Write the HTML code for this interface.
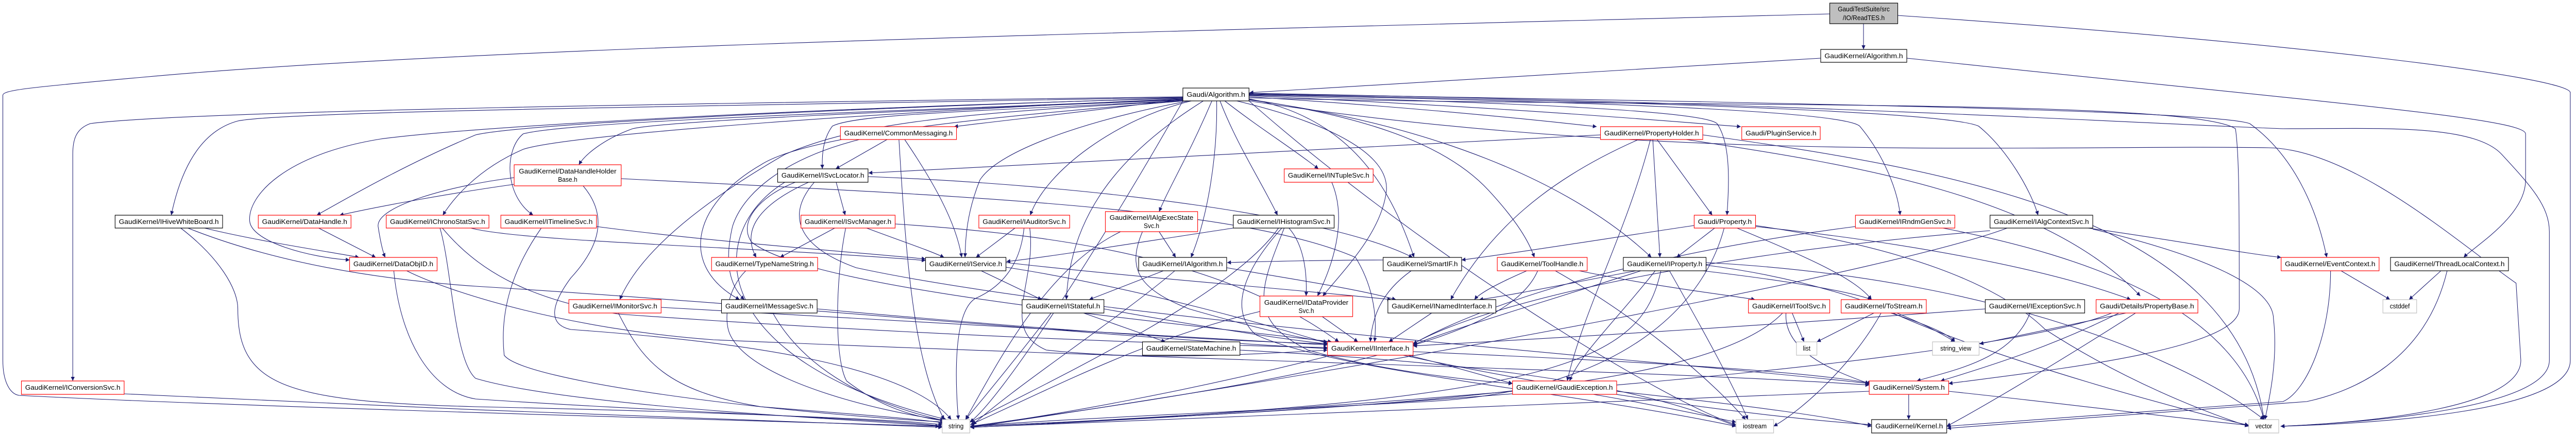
<!DOCTYPE html>
<html><head><meta charset="utf-8"><style>
html,body{margin:0;padding:0;background:#fff;width:100%;height:100%;overflow:hidden}
svg{display:block;position:absolute;left:0;top:0;width:100%;height:100%}
text{font-family:"Liberation Sans",sans-serif;font-size:13px;fill:#000}
.e path{fill:none;stroke:#191970;stroke-width:1.1}
</style></head><body>
<svg viewBox="0 0 5416 843" preserveAspectRatio="none" xmlns="http://www.w3.org/2000/svg">
<defs><marker id="a" viewBox="0 0 10 10" refX="10" refY="5" markerUnits="userSpaceOnUse" markerWidth="10" markerHeight="8" orient="auto"><path d="M0,0 L10,5 L0,10 z" fill="#191970"/></marker></defs>
<g class="e" marker-end="url(#a)">
<path d="M3918,46 L3918,96"/>
<path d="M3847,27 C2500,60 1000,90 300,150 C60,170 6,175 6,185 L6,700 C6,740 20,765 40,768 C500,790 1500,815 1975,828"/>
<path d="M3990,30 C4800,80 5404,150 5404,180 L5404,700 C5404,800 5000,822 4795,828"/>
<path d="M3828,113 C3300,140 2900,165 2627,180"/>
<path d="M4009,113 C4900,200 5310,230 5310,260 L5310,350 C5310,420 5200,480 5180,500"/>
<path d="M2487,188 C1500,200 400,215 190,240 C160,250 153,270 153,300 L153,740"/>
<path d="M2487,189 C1600,205 600,215 500,235 C420,255 380,330 360,418"/>
<path d="M2487,190 C1800,210 1100,240 1000,262 C850,320 720,390 666,418"/>
<path d="M2487,191 C1700,210 1000,245 800,270 C600,300 520,380 525,430 C530,470 650,500 735,505"/>
<path d="M2487,192 C1900,215 1200,260 1100,290 C1000,330 950,390 931,418"/>
<path d="M2487,193 C1900,215 1200,235 1100,260 C1060,290 1060,380 1121,418"/>
<path d="M2487,194 C1900,215 1400,235 1330,250 C1270,270 1230,300 1217,320"/>
<path d="M2490,192 C2300,215 2100,235 2006,246"/>
<path d="M2487,195 C2100,215 1800,220 1750,245 C1730,270 1728,300 1729,328"/>
<path d="M2487,196 C2000,220 1800,240 1650,300 C1500,380 1350,480 1303,582"/>
<path d="M2490,196 C2100,225 1700,260 1600,320 C1450,400 1430,520 1555,582"/>
<path d="M2500,196 C2300,230 2100,290 2060,350 C2030,420 2030,470 2029,500"/>
<path d="M2505,196 C2350,230 2200,330 2166,418"/>
<path d="M2530,196 C2350,300 2250,420 2242,582"/>
<path d="M2548,196 C2500,300 2460,360 2437,411"/>
<path d="M2558,196 C2560,300 2540,420 2504,500"/>
<path d="M2565,196 C2600,280 2650,350 2686,418"/>
<path d="M2575,196 C2650,250 2720,290 2772,328"/>
<path d="M2600,196 C2800,240 2920,300 2915,370 C2905,450 2830,520 2781,575"/>
<path d="M2626,192 C2850,230 2930,380 2973,500"/>
<path d="M2626,188 C3000,210 3250,235 3357,246"/>
<path d="M2626,186 C3200,210 3500,235 3660,246"/>
<path d="M2626,185 C3200,200 3580,215 3610,240 C3640,280 3635,360 3631,418"/>
<path d="M2626,193 C2900,230 3050,290 3130,370 C3190,430 3215,470 3226,500"/>
<path d="M2626,194 C3000,240 3300,350 3472,500"/>
<path d="M2626,184 C3500,200 3880,220 3910,245 C3960,300 3990,370 3995,418"/>
<path d="M2626,183 C3600,200 4100,220 4160,245 C4220,290 4270,370 4285,418"/>
<path d="M2626,182 C3800,200 4650,215 4730,240 C4820,300 4870,400 4892,500"/>
<path d="M2626,181 C3800,200 4500,240 4800,250 C5000,250 5200,240 5260,300 C5320,360 5360,400 5360,450 L5360,700 C5360,790 5000,820 4795,828"/>
<path d="M2626,190 C3500,210 4600,190 4700,250 C4708,300 4708,400 4708,600 C4708,680 4300,720 4097,745"/>
<path d="M2626,196 C3500,320 4300,280 4770,287 C4950,290 5180,480 5290,550 L5300,700 C5300,790 5000,820 4795,828"/>
<path d="M2487,196 C2300,500 2100,780 2039,820"/>
<path d="M2626,196 C3000,500 3500,780 3650,825"/>
<path d="M1865,271 L1757,328"/>
<path d="M1807,271 C1640,310 1560,380 1540,440 C1520,520 1540,560 1565,582"/>
<path d="M1890,271 C1905,500 1920,700 1985,815"/>
<path d="M1902,271 C1960,350 2010,430 2022,500"/>
<path d="M1758,354 L1777,418"/>
<path d="M1700,354 C1590,400 1560,450 1590,500"/>
<path d="M1672,354 C1600,380 1550,430 1580,470 C1700,560 2400,620 2800,664"/>
<path d="M1825,343 C2300,360 2800,420 2970,500"/>
<path d="M1650,354 C1480,450 1480,700 1990,815"/>
<path d="M1712,354 C1650,420 1680,480 1800,520 C2300,620 3500,700 3930,745"/>
<path d="M3365,262 C2800,290 2100,320 1826,336"/>
<path d="M1081,345 C950,360 790,400 795,440 C800,470 805,490 810,500"/>
<path d="M1081,358 C950,375 800,400 714,418"/>
<path d="M1306,347 C2000,380 2600,400 2850,500 C2890,560 2895,620 2890,664"/>
<path d="M1226,361 C1280,420 1260,480 1200,540 C1160,590 1150,630 1200,640 C1500,660 1900,700 2000,815"/>
<path d="M430,443 C550,470 700,490 755,500"/>
<path d="M380,443 C460,500 500,560 500,600 C500,750 600,780 1000,790 C1500,800 1900,815 1981,825"/>
<path d="M395,443 C550,500 750,540 1000,556 C1600,590 2400,660 2791,677"/>
<path d="M670,443 L790,500"/>
<path d="M828,526 C840,650 900,760 1000,775 C1400,800 1900,815 1981,828"/>
<path d="M855,526 C950,570 1200,640 1500,660 C2500,700 3500,720 3930,748"/>
<path d="M925,443 C950,520 955,700 1000,735 C1200,790 1800,815 1981,828"/>
<path d="M990,443 C1100,470 1600,480 1946,506"/>
<path d="M930,443 C1000,520 1100,580 1300,610 C1900,650 2500,670 2791,675"/>
<path d="M1254,440 C1500,470 1800,490 1946,503"/>
<path d="M1138,443 C1080,520 1050,600 1060,690 C1100,740 1600,800 1990,820"/>
<path d="M1755,443 L1640,500"/>
<path d="M1822,443 C1900,470 1950,485 1985,500"/>
<path d="M1778,443 C1755,550 1755,700 1780,740 C1850,790 1920,810 1990,818"/>
<path d="M1882,435 C2300,460 2600,520 2815,664"/>
<path d="M1568,526 C1530,560 1520,620 1535,650 C1580,740 1850,800 1985,816"/>
<path d="M1390,597 C2000,630 2500,655 2791,670"/>
<path d="M1300,608 C1350,700 1400,760 1600,790 C1800,805 1950,815 1985,822"/>
<path d="M1718,600 C2200,640 2500,660 2791,668"/>
<path d="M1625,608 C1680,700 1800,780 1990,818"/>
<path d="M2134,443 L2052,500"/>
<path d="M2165,443 C2180,550 2100,640 2200,680 C2400,700 2600,690 2791,680"/>
<path d="M2153,443 C2145,520 2100,560 2050,580 C2000,610 2010,760 2015,815"/>
<path d="M2437,450 L2472,500"/>
<path d="M2593,443 C2400,470 2200,500 2116,508"/>
<path d="M2356,450 C2200,520 2100,700 2030,815"/>
<path d="M2402,450 C2370,520 2390,560 2500,600 C2650,640 2750,660 2791,664"/>
<path d="M2710,443 C2745,480 2748,540 2746,575"/>
<path d="M2688,443 C2600,560 2300,700 2040,820"/>
<path d="M2695,443 C2620,520 2580,600 2640,650 C2800,720 3300,760 3650,828"/>
<path d="M2700,443 C2650,560 2620,620 2750,680 C2900,720 3100,740 3180,745"/>
<path d="M2063,526 L2190,582"/>
<path d="M2115,519 C2400,560 2700,640 2791,667"/>
<path d="M2115,510 C2400,540 2700,560 2925,582"/>
<path d="M2446,526 L2290,582"/>
<path d="M2579,520 C2700,540 2850,560 2935,582"/>
<path d="M2470,526 C2350,620 2150,740 2045,825"/>
<path d="M2908,505 C2800,505 2650,508 2580,510"/>
<path d="M2278,608 L2450,664"/>
<path d="M2321,600 C2500,630 2700,660 2791,668"/>
<path d="M2210,608 C2150,680 2080,760 2030,815"/>
<path d="M2780,615 L2855,664"/>
<path d="M2649,605 C2400,660 2200,760 2040,825"/>
<path d="M2800,354 C2830,420 2810,500 2770,575"/>
<path d="M3010,608 L2920,664"/>
<path d="M2967,526 C2900,570 2885,620 2881,664"/>
<path d="M2607,680 C3000,700 3400,730 3650,828"/>
<path d="M2971,683 C3400,700 3800,720 3935,745"/>
<path d="M2960,690 C3050,710 3120,730 3180,745"/>
<path d="M2950,690 C3300,760 3700,810 3935,825"/>
<path d="M2800,690 C2500,760 2200,810 2040,828"/>
<path d="M3475,271 L3490,500"/>
<path d="M3484,271 L3600,418"/>
<path d="M3445,271 C3250,350 3130,450 3050,582"/>
<path d="M3470,271 C3420,450 3330,600 3295,740"/>
<path d="M3545,271 C3900,320 4300,380 4500,575"/>
<path d="M3580,262 C4100,330 4700,420 4760,815"/>
<path d="M3605,443 L3525,500"/>
<path d="M3562,438 C3400,460 3200,490 3073,505"/>
<path d="M3652,443 C3800,500 3900,540 3935,582"/>
<path d="M3691,440 C4000,470 4300,520 4480,582"/>
<path d="M3625,443 C3580,600 3400,760 3000,780 C2600,800 2200,815 2040,828"/>
<path d="M3691,438 C4000,480 4200,550 4300,640 C4500,760 4700,820 4728,828"/>
<path d="M3440,526 C3300,550 3200,570 3110,582"/>
<path d="M3450,526 C3200,600 3050,640 2971,670"/>
<path d="M3480,526 C3400,620 3320,690 3300,740"/>
<path d="M3510,526 C3580,640 3640,740 3675,815"/>
<path d="M3580,526 C3800,550 3900,570 3935,582"/>
<path d="M3492,526 C3450,700 3300,780 2040,828"/>
<path d="M3587,510 C4200,540 4600,700 4760,815"/>
<path d="M3587,515 C3800,540 4000,600 4110,664"/>
<path d="M3210,526 C3150,550 3110,570 3100,582"/>
<path d="M3320,526 C3500,560 3650,575 3690,582"/>
<path d="M3233,526 C3180,640 2900,720 2040,828"/>
<path d="M3270,526 C3450,620 3600,740 3670,815"/>
<path d="M3768,608 L3793,664"/>
<path d="M3748,608 C3600,750 3000,790 2040,828"/>
<path d="M3755,608 C3750,680 3850,720 3930,745"/>
<path d="M3940,608 L3820,664"/>
<path d="M3955,608 C3900,700 3800,790 3729,828"/>
<path d="M3975,608 C4050,630 4100,650 4110,664"/>
<path d="M3980,608 C4200,700 4600,800 4728,826"/>
<path d="M4174,600 C3600,640 3200,660 2971,672"/>
<path d="M4268,608 C4230,700 4100,720 4030,740"/>
<path d="M4470,608 L4162,668"/>
<path d="M4455,608 C4300,680 4150,720 4080,740"/>
<path d="M4490,608 C4300,720 4150,800 4093,828"/>
<path d="M4440,608 C4200,700 3000,790 2040,830"/>
<path d="M4013,766 L4013,815"/>
<path d="M3930,760 C3000,790 2300,820 2040,830"/>
<path d="M4097,760 C4400,790 4600,815 4728,826"/>
<path d="M3350,766 C3500,790 3600,810 3650,820"/>
<path d="M3399,760 C3700,790 3850,810 3935,828"/>
<path d="M3180,760 C2800,790 2300,820 2040,830"/>
<path d="M4922,526 L5025,582"/>
<path d="M4900,526 C4900,650 4850,760 4800,780 C4500,800 4200,820 4093,828"/>
<path d="M5132,526 L5065,582"/>
<path d="M5145,526 C5100,700 4950,760 4850,780 C4500,805 4200,825 4094,832"/>
<path d="M4390,443 C4600,470 4700,490 4796,500"/>
<path d="M4400,445 C4650,500 4780,560 4780,620 C4790,700 4770,780 4762,815"/>
<path d="M4184,448 C3500,500 3100,600 2971,668"/>
<path d="M4220,443 C4000,520 3000,700 2040,830"/>
<path d="M3901,440 C3400,500 3100,600 2971,668"/>
<path d="M4085,443 C4400,500 4700,600 4760,815"/>
<path d="M261,765 C800,790 1500,815 1981,830"/>
</g>
<g stroke-width="1.2">
<rect x="3847" y="6" width="143" height="40" fill="#bfbfbf" stroke="#000"/>
<text x="3918.5" y="22" text-anchor="middle">GaudiTestSuite/src</text>
<text x="3918.5" y="39" text-anchor="middle">/IO/ReadTES.h</text>
<rect x="3828" y="96" width="181" height="25" fill="#fff" stroke="#000"/><text x="3918.5" y="113" text-anchor="middle" textLength="165" lengthAdjust="spacingAndGlyphs">GaudiKernel/Algorithm.h</text>
<rect x="2487" y="171" width="139" height="25" fill="#fff" stroke="#000"/><text x="2556.5" y="188" text-anchor="middle" textLength="123" lengthAdjust="spacingAndGlyphs">Gaudi/Algorithm.h</text>
<rect x="1767" y="246" width="244" height="25" fill="#fff" stroke="#f00"/><text x="1889" y="263" text-anchor="middle" textLength="228" lengthAdjust="spacingAndGlyphs">GaudiKernel/CommonMessaging.h</text>
<rect x="3365" y="246" width="215" height="25" fill="#fff" stroke="#f00"/><text x="3472.5" y="263" text-anchor="middle" textLength="199" lengthAdjust="spacingAndGlyphs">GaudiKernel/PropertyHolder.h</text>
<rect x="3662" y="246" width="165" height="25" fill="#fff" stroke="#f00"/><text x="3744.5" y="263" text-anchor="middle" textLength="149" lengthAdjust="spacingAndGlyphs">Gaudi/PluginService.h</text>
<rect x="1081" y="320" width="225" height="41" fill="#fff" stroke="#f00"/>
<text x="1193.5" y="337" text-anchor="middle" textLength="205" lengthAdjust="spacingAndGlyphs">GaudiKernel/DataHandleHolder</text>
<text x="1193.5" y="353" text-anchor="middle">Base.h</text>
<rect x="1635" y="328" width="190" height="26" fill="#fff" stroke="#000"/><text x="1730" y="345" text-anchor="middle" textLength="174" lengthAdjust="spacingAndGlyphs">GaudiKernel/ISvcLocator.h</text>
<rect x="2700" y="328" width="187" height="26" fill="#fff" stroke="#f00"/><text x="2793.5" y="345" text-anchor="middle" textLength="171" lengthAdjust="spacingAndGlyphs">GaudiKernel/INTupleSvc.h</text>
<rect x="242" y="418" width="226" height="25" fill="#fff" stroke="#000"/><text x="355" y="435" text-anchor="middle" textLength="210" lengthAdjust="spacingAndGlyphs">GaudiKernel/IHiveWhiteBoard.h</text>
<rect x="543" y="418" width="195" height="25" fill="#fff" stroke="#f00"/><text x="640.5" y="435" text-anchor="middle" textLength="179" lengthAdjust="spacingAndGlyphs">GaudiKernel/DataHandle.h</text>
<rect x="812" y="418" width="216" height="25" fill="#fff" stroke="#f00"/><text x="920" y="435" text-anchor="middle" textLength="200" lengthAdjust="spacingAndGlyphs">GaudiKernel/IChronoStatSvc.h</text>
<rect x="1053" y="418" width="201" height="25" fill="#fff" stroke="#f00"/><text x="1153.5" y="435" text-anchor="middle" textLength="185" lengthAdjust="spacingAndGlyphs">GaudiKernel/ITimelineSvc.h</text>
<rect x="1684" y="418" width="198" height="25" fill="#fff" stroke="#f00"/><text x="1783" y="435" text-anchor="middle" textLength="182" lengthAdjust="spacingAndGlyphs">GaudiKernel/ISvcManager.h</text>
<rect x="2058" y="418" width="191" height="25" fill="#fff" stroke="#f00"/><text x="2153.5" y="435" text-anchor="middle" textLength="175" lengthAdjust="spacingAndGlyphs">GaudiKernel/IAuditorSvc.h</text>
<rect x="2324" y="411" width="194" height="39" fill="#fff" stroke="#f00"/>
<text x="2421" y="427" text-anchor="middle" textLength="176" lengthAdjust="spacingAndGlyphs">GaudiKernel/IAlgExecState</text>
<text x="2421" y="443" text-anchor="middle">Svc.h</text>
<rect x="2593" y="418" width="212" height="25" fill="#fff" stroke="#000"/><text x="2699" y="435" text-anchor="middle" textLength="196" lengthAdjust="spacingAndGlyphs">GaudiKernel/IHistogramSvc.h</text>
<rect x="3562" y="418" width="129" height="25" fill="#fff" stroke="#f00"/><text x="3626.5" y="435" text-anchor="middle" textLength="113" lengthAdjust="spacingAndGlyphs">Gaudi/Property.h</text>
<rect x="3901" y="418" width="209" height="25" fill="#fff" stroke="#f00"/><text x="4005.5" y="435" text-anchor="middle" textLength="193" lengthAdjust="spacingAndGlyphs">GaudiKernel/IRndmGenSvc.h</text>
<rect x="4184" y="418" width="216" height="25" fill="#fff" stroke="#000"/><text x="4292" y="435" text-anchor="middle" textLength="200" lengthAdjust="spacingAndGlyphs">GaudiKernel/IAlgContextSvc.h</text>
<rect x="735" y="500" width="184" height="26" fill="#fff" stroke="#f00"/><text x="827" y="517" text-anchor="middle" textLength="168" lengthAdjust="spacingAndGlyphs">GaudiKernel/DataObjID.h</text>
<rect x="1496" y="500" width="223" height="26" fill="#fff" stroke="#f00"/><text x="1607.5" y="517" text-anchor="middle" textLength="207" lengthAdjust="spacingAndGlyphs">GaudiKernel/TypeNameString.h</text>
<rect x="1946" y="500" width="169" height="26" fill="#fff" stroke="#000"/><text x="2030.5" y="517" text-anchor="middle" textLength="153" lengthAdjust="spacingAndGlyphs">GaudiKernel/IService.h</text>
<rect x="2394" y="500" width="185" height="26" fill="#fff" stroke="#000"/><text x="2486.5" y="517" text-anchor="middle" textLength="169" lengthAdjust="spacingAndGlyphs">GaudiKernel/IAlgorithm.h</text>
<rect x="2908" y="500" width="165" height="26" fill="#fff" stroke="#000"/><text x="2990.5" y="517" text-anchor="middle" textLength="149" lengthAdjust="spacingAndGlyphs">GaudiKernel/SmartIF.h</text>
<rect x="3148" y="500" width="189" height="26" fill="#fff" stroke="#f00"/><text x="3242.5" y="517" text-anchor="middle" textLength="173" lengthAdjust="spacingAndGlyphs">GaudiKernel/ToolHandle.h</text>
<rect x="3413" y="500" width="174" height="26" fill="#fff" stroke="#000"/><text x="3500" y="517" text-anchor="middle" textLength="158" lengthAdjust="spacingAndGlyphs">GaudiKernel/IProperty.h</text>
<rect x="4796" y="500" width="206" height="26" fill="#fff" stroke="#f00"/><text x="4899" y="517" text-anchor="middle" textLength="190" lengthAdjust="spacingAndGlyphs">GaudiKernel/EventContext.h</text>
<rect x="5026" y="500" width="248" height="26" fill="#fff" stroke="#000"/><text x="5150" y="517" text-anchor="middle" textLength="232" lengthAdjust="spacingAndGlyphs">GaudiKernel/ThreadLocalContext.h</text>
<rect x="1196" y="582" width="194" height="26" fill="#fff" stroke="#f00"/><text x="1293" y="599" text-anchor="middle" textLength="178" lengthAdjust="spacingAndGlyphs">GaudiKernel/IMonitorSvc.h</text>
<rect x="1517" y="582" width="201" height="26" fill="#fff" stroke="#000"/><text x="1617.5" y="599" text-anchor="middle" textLength="185" lengthAdjust="spacingAndGlyphs">GaudiKernel/IMessageSvc.h</text>
<rect x="2149" y="582" width="172" height="26" fill="#fff" stroke="#000"/><text x="2235" y="599" text-anchor="middle" textLength="156" lengthAdjust="spacingAndGlyphs">GaudiKernel/IStateful.h</text>
<rect x="2649" y="575" width="195" height="40" fill="#fff" stroke="#f00"/>
<text x="2746.5" y="592" text-anchor="middle" textLength="177" lengthAdjust="spacingAndGlyphs">GaudiKernel/IDataProvider</text>
<text x="2746.5" y="608" text-anchor="middle">Svc.h</text>
<rect x="2918" y="582" width="227" height="26" fill="#fff" stroke="#000"/><text x="3031.5" y="599" text-anchor="middle" textLength="211" lengthAdjust="spacingAndGlyphs">GaudiKernel/INamedInterface.h</text>
<rect x="3676" y="582" width="171" height="26" fill="#fff" stroke="#f00"/><text x="3761.5" y="599" text-anchor="middle" textLength="155" lengthAdjust="spacingAndGlyphs">GaudiKernel/IToolSvc.h</text>
<rect x="3871" y="582" width="179" height="26" fill="#fff" stroke="#f00"/><text x="3960.5" y="599" text-anchor="middle" textLength="163" lengthAdjust="spacingAndGlyphs">GaudiKernel/ToStream.h</text>
<rect x="4174" y="582" width="209" height="26" fill="#fff" stroke="#000"/><text x="4278.5" y="599" text-anchor="middle" textLength="193" lengthAdjust="spacingAndGlyphs">GaudiKernel/IExceptionSvc.h</text>
<rect x="4407" y="582" width="214" height="26" fill="#fff" stroke="#f00"/><text x="4514" y="599" text-anchor="middle" textLength="198" lengthAdjust="spacingAndGlyphs">Gaudi/Details/PropertyBase.h</text>
<rect x="5010" y="582" width="71" height="26" fill="#fff" stroke="#bfbfbf"/><text x="5045.5" y="599" text-anchor="middle">cstddef</text>
<rect x="2402" y="664" width="205" height="26" fill="#fff" stroke="#000"/><text x="2504.5" y="681" text-anchor="middle" textLength="189" lengthAdjust="spacingAndGlyphs">GaudiKernel/StateMachine.h</text>
<rect x="2791" y="664" width="180" height="26" fill="#fff" stroke="#f00"/><text x="2881" y="681" text-anchor="middle" textLength="164" lengthAdjust="spacingAndGlyphs">GaudiKernel/IInterface.h</text>
<rect x="3777" y="664" width="43" height="26" fill="#fff" stroke="#bfbfbf"/><text x="3798.5" y="681" text-anchor="middle">list</text>
<rect x="4063" y="664" width="98" height="26" fill="#fff" stroke="#bfbfbf"/><text x="4112" y="681" text-anchor="middle">string_view</text>
<rect x="45" y="740" width="216" height="26" fill="#fff" stroke="#f00"/><text x="153" y="757" text-anchor="middle" textLength="200" lengthAdjust="spacingAndGlyphs">GaudiKernel/IConversionSvc.h</text>
<rect x="3180" y="740" width="219" height="26" fill="#fff" stroke="#f00"/><text x="3289.5" y="757" text-anchor="middle" textLength="203" lengthAdjust="spacingAndGlyphs">GaudiKernel/GaudiException.h</text>
<rect x="3930" y="740" width="167" height="26" fill="#fff" stroke="#f00"/><text x="4013.5" y="757" text-anchor="middle" textLength="151" lengthAdjust="spacingAndGlyphs">GaudiKernel/System.h</text>
<rect x="1981" y="815" width="58" height="26" fill="#fff" stroke="#bfbfbf"/><text x="2010" y="832" text-anchor="middle">string</text>
<rect x="3650" y="815" width="79" height="26" fill="#fff" stroke="#bfbfbf"/><text x="3689.5" y="832" text-anchor="middle">iostream</text>
<rect x="3935" y="815" width="158" height="26" fill="#fff" stroke="#000"/><text x="4014" y="832" text-anchor="middle" textLength="142" lengthAdjust="spacingAndGlyphs">GaudiKernel/Kernel.h</text>
<rect x="4728" y="815" width="63" height="26" fill="#fff" stroke="#bfbfbf"/><text x="4759.5" y="832" text-anchor="middle">vector</text>
</g>
</svg>
</body></html>
